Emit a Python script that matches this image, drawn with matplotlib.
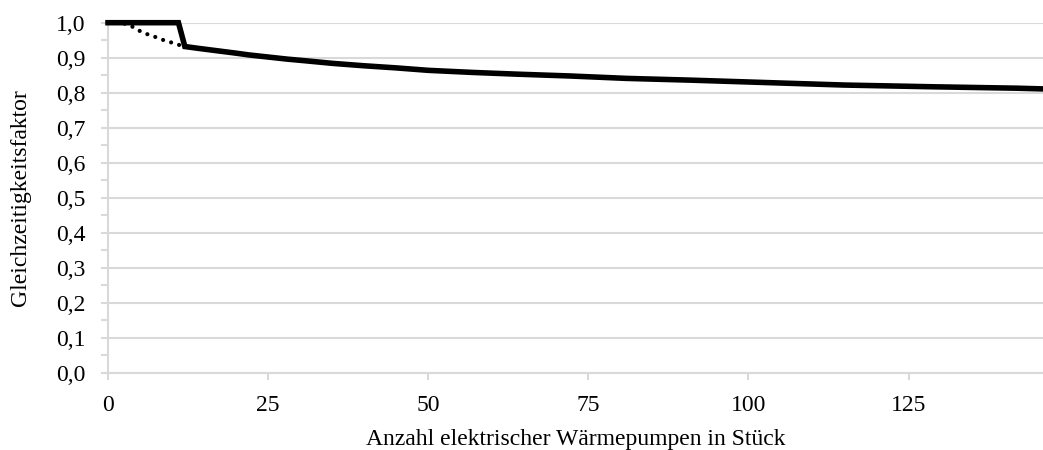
import matplotlib
matplotlib.use("Agg")
import matplotlib.pyplot as plt
from matplotlib.ticker import MultipleLocator, FuncFormatter

plt.rcParams['font.family'] = ['Liberation Serif', 'DejaVu Serif']

# Gleichzeitigkeitsfaktor (solid line)
n_solid = [0, 1, 2, 3, 4, 5, 6, 7, 8, 9, 10, 11, 12, 14, 17, 20, 22, 25, 28, 31,
           35, 40, 45, 50, 57, 64, 72, 81, 91, 103, 115, 129, 142, 146]
g_solid = [1.0, 1.0, 1.0, 1.0, 1.0, 1.0, 1.0, 1.0, 1.0, 1.0, 1.0, 1.0, 0.932, 0.927,
           0.920, 0.913, 0.908, 0.902, 0.896, 0.891, 0.884, 0.877, 0.871, 0.864,
           0.858, 0.853, 0.848, 0.841, 0.836, 0.829, 0.822, 0.817, 0.813, 0.811]

# dotted curve for small numbers of heat pumps
n_dot = [0, 1, 2, 3, 4, 5, 6, 7, 8, 9, 10, 11, 12]
g_dot = [1.0, 1.0, 1.0, 0.995, 0.987, 0.976, 0.968, 0.962, 0.955, 0.948, 0.943,
         0.937, 0.932]

grey = '#d9d9d9'

fig = plt.figure(figsize=(10.43, 4.5), dpi=100)
ax = fig.add_axes([108 / 1043, 77 / 450, 1 - 108 / 1043, (373 - 22.7) / 450])

ax.plot(n_dot, g_dot, color='black', lw=3.0, linestyle=(0, (0.01, 2.0)),
        dash_capstyle='round', clip_on=False, zorder=3)
ax.plot(n_solid, g_solid, color='black', lw=4.0, solid_joinstyle='miter',
        clip_on=False, zorder=4)

ax.set_xlim(0, 146)
ax.set_ylim(0, 1.0)
ax.xaxis.set_major_locator(MultipleLocator(25))
ax.yaxis.set_major_locator(MultipleLocator(0.1))
ax.yaxis.set_minor_locator(MultipleLocator(0.05))
ax.yaxis.set_major_formatter(FuncFormatter(lambda v, p: f"{v:.1f}".replace('.', ',')))

ax.grid(axis='y', which='major', color=grey, lw=1.5, zorder=0)
for s in ['top', 'right']:
    ax.spines[s].set_visible(False)
for s in ['left', 'bottom']:
    ax.spines[s].set_color(grey)
    ax.spines[s].set_linewidth(1.5)

ax.tick_params(axis='both', which='both', color=grey, width=1.5, length=5,
               labelsize=17, direction='out')
ax.tick_params(axis='y', which='major', pad=11)
ax.tick_params(axis='x', which='major', pad=11)

ax.set_xlabel('Anzahl elektrischer Wärmepumpen in Stück', fontsize=17, labelpad=9)
ax.set_ylabel('Gleichzeitigkeitsfaktor', fontsize=17, labelpad=18)

fig.savefig('out.png', dpi=100)
